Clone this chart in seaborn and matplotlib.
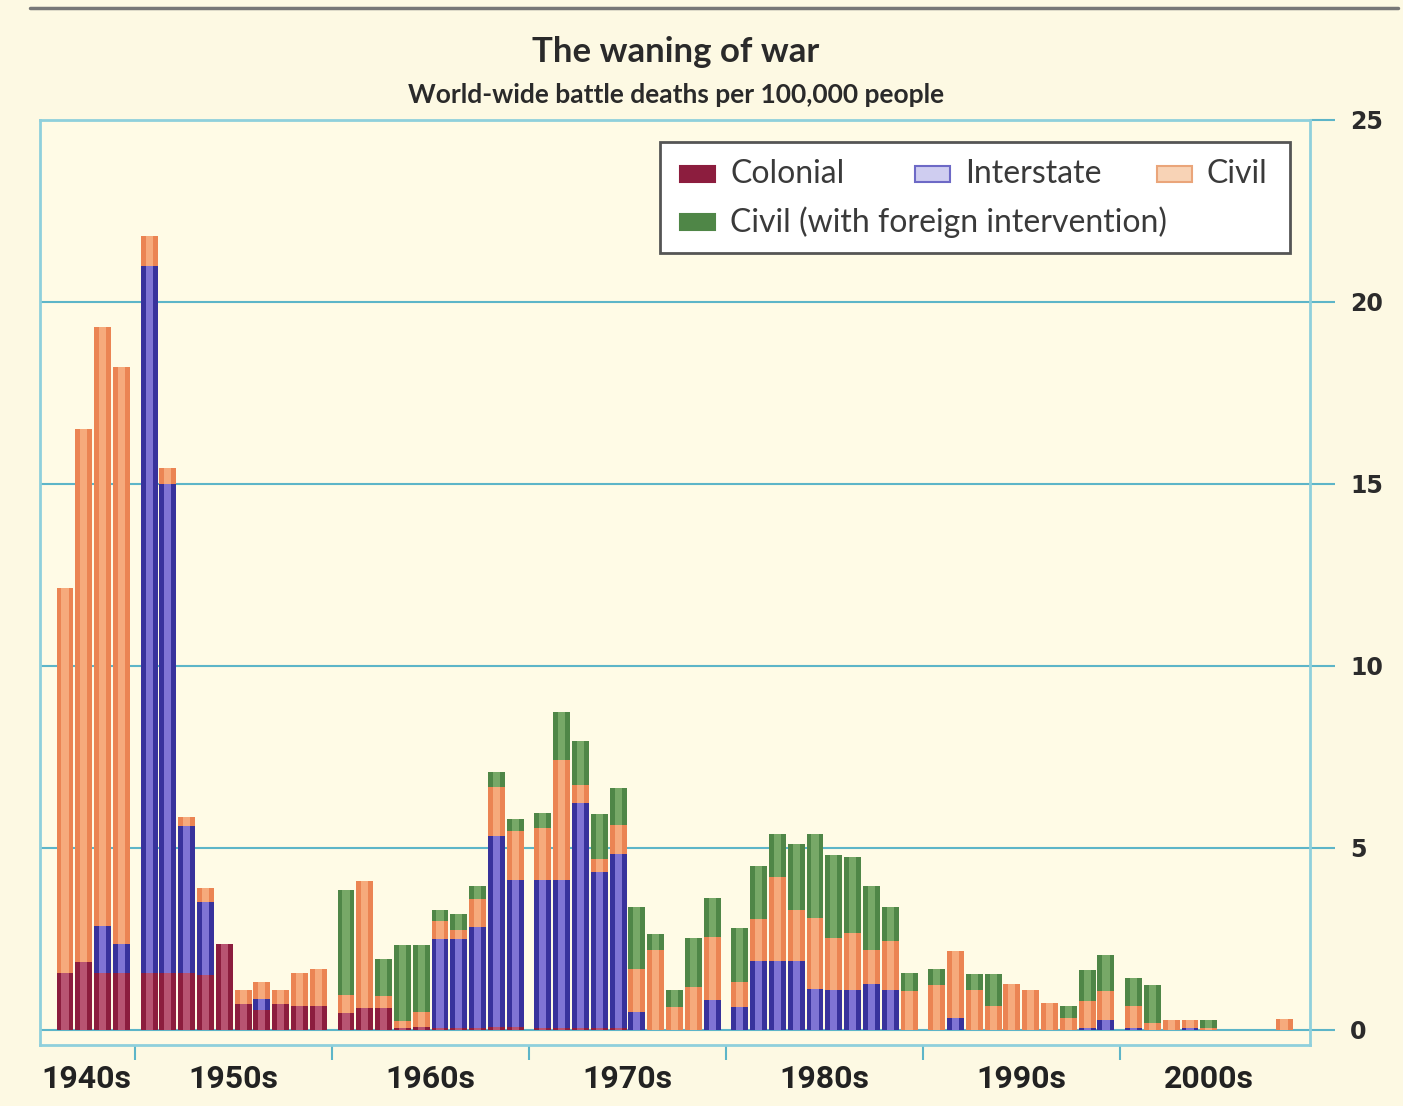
"""
The waning of war - stacked bars of battle deaths per 100,000 people
"""

import numpy as np
import pandas as pd
import matplotlib
matplotlib.use("Agg")
import matplotlib.pyplot as plt
from matplotlib.patches import Rectangle
from matplotlib.lines import Line2D
import seaborn as sns


years = list(range(1946, 2009))

colonial = [1.55, 1.85, 1.55, 1.55, 1.55, 1.55, 1.55, 1.5, 2.35, 0.7,
            0.55, 0.7, 0.65, 0.65, 0.46, 0.6, 0.6, 0.05, 0.08, 0.05,
            0.05, 0.05, 0.08, 0.08, 0.05, 0.05, 0.05, 0.05, 0.05, 0,
            0, 0, 0, 0, 0, 0, 0, 0, 0, 0,
            0, 0, 0, 0, 0, 0, 0, 0, 0, 0,
            0, 0, 0, 0, 0, 0, 0, 0, 0, 0,
            0, 0, 0]
interstate = [0, 0, 1.3, 0.8, 19.45, 13.45, 4.05, 2.0, 0, 0,
              0.3, 0, 0, 0, 0, 0, 0, 0, 0, 2.43,
              2.43, 2.77, 5.24, 4.04, 4.07, 4.06, 6.17, 4.29, 4.79, 0.49,
              0, 0, 0, 0.81, 0.62, 1.9, 1.9, 1.9, 1.13, 1.08,
              1.08, 1.27, 1.08, 0, 0, 0.32, 0, 0, 0, 0,
              0, 0, 0.05, 0.28, 0.04, 0, 0, 0.05, 0, 0,
              0, 0, 0]
civil = [10.6, 14.65, 16.45, 15.85, 0.8, 0.45, 0.25, 0.4, 0, 0.4,
         0.45, 0.4, 0.92, 1.02, 0.5, 3.48, 0.34, 0.18, 0.42, 0.5,
         0.27, 0.78, 1.35, 1.34, 1.43, 3.3, 0.5, 0.36, 0.78, 1.19,
         2.18, 0.62, 1.17, 1.74, 0.69, 1.15, 2.29, 1.4, 1.94, 1.44,
         1.58, 0.92, 1.35, 1.07, 1.24, 1.84, 1.1, 0.66, 1.27, 1.1,
         0.73, 0.32, 0.73, 0.78, 0.6, 0.18, 0.28, 0.23, 0.05, 0,
         0, 0, 0.3]
civil_foreign = [0, 0, 0, 0, 0, 0, 0, 0, 0, 0,
                 0, 0, 0, 0, 2.89, 0, 1.01, 2.1, 1.83, 0.3,
                 0.42, 0.34, 0.41, 0.33, 0.41, 1.33, 1.22, 1.24, 1.03, 1.68,
                 0.46, 0.46, 1.35, 1.08, 1.48, 1.45, 1.18, 1.79, 2.3, 2.27,
                 2.1, 1.76, 0.94, 0.48, 0.43, 0, 0.44, 0.88, 0, 0,
                 0, 0.32, 0.87, 1.0, 0.78, 1.06, 0, 0, 0.23, 0,
                 0, 0, 0]

decade_labels = ['1940s', '1950s', '1960s', '1970s', '1980s', '1990s', '2000s']
y_ticks = [0, 5, 10, 15, 20, 25]

series_names = ['Colonial', 'Interstate', 'Civil', 'Civil (with foreign intervention)']
dark_colors = ['#8c1d3e', '#38329c', '#eb8453', '#4f8647']
light_colors = ['#b85472', '#7f74d4', '#f6aa7c', '#77a867']
legend_face = ['#8c1d3e', '#cfcdf0', '#f8d3b6', '#4f8647']
legend_edge = ['#8c1d3e', '#6d69c6', '#eaa57a', '#4f8647']

GRID = '#5db5c8'
BG = '#fdf9e3'
GAP = 0.47  # extra space between decades

# positions on the x scale: one unit per year plus a small gap per decade
df = pd.DataFrame({
    'year': years,
    'Colonial': colonial,
    'Interstate': interstate,
    'Civil': civil,
    'Civil (with foreign intervention)': civil_foreign,
})
df['pos'] = (df['year'] - 1946) + GAP * (df['year'] // 10 - 194)

sns.set_theme(style='white')
plt.rcParams['font.family'] = ['Lato', 'DejaVu Sans']

fig = plt.figure(figsize=(14.03, 11.06), dpi=100, facecolor=BG)
ax = fig.add_axes([40 / 1403, 1 - 1045 / 1106, 1270 / 1403, 925 / 1106])
ax.set_facecolor('#fffbe6')
ax.set_axisbelow(True)

# stacked bars: draw cumulative totals from the top layer down
cum = df[series_names].cumsum(axis=1)
for i in range(len(series_names) - 1, -1, -1):
    name = series_names[i]
    layer = pd.DataFrame({'pos': df['pos'], 'val': cum[name]})
    sns.barplot(data=layer, x='pos', y='val', native_scale=True, width=0.9,
                color=dark_colors[i], saturation=1, errorbar=None,
                linewidth=0, ax=ax)
    sns.barplot(data=layer, x='pos', y='val', native_scale=True, width=0.38,
                color=light_colors[i], saturation=1, errorbar=None,
                linewidth=0, ax=ax)

ax.set_xlabel('')
ax.set_ylabel('')
ax.set_xlim(-1.33, 66.2)
ax.set_ylim(-0.42, 25)

# y axis on the right, grid lines across
ax.yaxis.tick_right()
ax.set_yticks(y_ticks)
ax.set_yticklabels([str(t) for t in y_ticks], fontsize=17, fontweight='bold',
                   color='#2b2b2b', family='DejaVu Sans')
ax.tick_params(axis='y', length=18, width=1.5, color=GRID, pad=11)
ax.grid(axis='y', color=GRID, linewidth=1.5)
ax.grid(axis='x', visible=False)

# x axis: decade boundaries as ticks, labels at decade centres
starts = df.groupby(df['year'] // 10)['pos'].min().values
ends = df.groupby(df['year'] // 10)['pos'].max().values
bounds = (ends[:-1] + starts[1:]) / 2
centres = (starts + ends) / 2
centres[0] = 1.15
ax.set_xticks(bounds, minor=True)
ax.set_xticks(centres)
ax.set_xticklabels(decade_labels, fontsize=23, fontweight='bold',
                   color='#222222', family='Roboto')
ax.tick_params(axis='x', which='major', length=0, pad=14)
ax.tick_params(axis='x', which='minor', length=11, width=1.5, color=GRID,
               bottom=True)

for side in ['left', 'right', 'top', 'bottom']:
    ax.spines[side].set_visible(True)
    ax.spines[side].set_color('#8fd0dc')
    ax.spines[side].set_linewidth(2)


def fx(px):
    return px / 1403


def fy(py):
    return 1 - py / 1106


# top rule, title and subtitle
fig.add_artist(Line2D([fx(30), fx(1398)], [fy(8), fy(8)], color='#777777', lw=2.5))
fig.text(fx(676), fy(52), 'The waning of war', ha='center', va='center',
         fontsize=25, fontweight='bold', color='#2a2a2a')
fig.text(fx(676), fy(95), 'World-wide battle deaths per 100,000 people',
         ha='center', va='center', fontsize=19, fontweight='bold',
         color='#2a2a2a')

# legend drawn by hand to keep the 3 + 1 layout
fig.add_artist(Rectangle((fx(660), fy(253)), (1290 - 660) / 1403, (253 - 142) / 1106,
                         transform=fig.transFigure, facecolor='white',
                         edgecolor='#555555', lw=2, zorder=5))
legend_spots = [(680, 174), (915, 174), (1157, 174), (680, 222)]
for (lx, ly), name, fc, ec in zip(legend_spots, series_names, legend_face, legend_edge):
    fig.add_artist(Rectangle((fx(lx), fy(ly + 8)), 35 / 1403, 16 / 1106,
                             transform=fig.transFigure, facecolor=fc,
                             edgecolor=ec, lw=1.5, zorder=6))
    fig.text(fx(lx + 50), fy(ly), name, ha='left', va='center', fontsize=23,
             color='#3a3a3a', zorder=7)

fig.savefig('out.png', dpi=100, facecolor=BG)
